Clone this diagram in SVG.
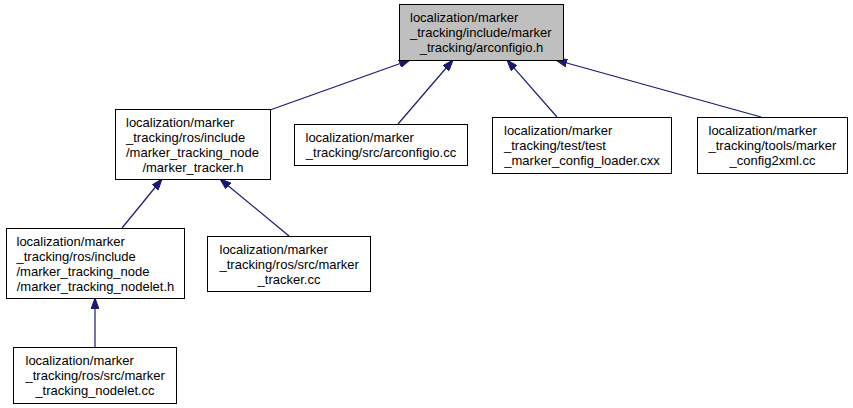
<svg xmlns="http://www.w3.org/2000/svg" width="853" height="408" viewBox="0 0 853 408">
<style>
.box{fill:#ffffff;stroke:#000000;stroke-width:1}
.hl{fill:#bfbfbf}
text{font-family:"Liberation Sans",Arial,sans-serif;font-size:13px;fill:#000000}
.c{text-anchor:middle}
.edge{stroke:#191970;stroke-width:1.2;fill:none;marker-end:url(#arr)}
</style>
<defs>
<marker id="arr" viewBox="0 0 11 8" markerWidth="11" markerHeight="8" markerUnits="userSpaceOnUse" refX="11" refY="4" orient="auto">
<path d="M0,0 L11,4 L0,8 z" fill="#191970" stroke="#191970"/>
</marker>
</defs>
<rect width="853" height="408" fill="#ffffff"/>
<g id="edges">
<line class="edge" x1="270" y1="110" x2="410" y2="60"/>
<line class="edge" x1="398" y1="124" x2="453" y2="60"/>
<line class="edge" x1="557" y1="117" x2="507" y2="60"/>
<line class="edge" x1="761" y1="117" x2="556" y2="60"/>
<line class="edge" x1="122" y1="228" x2="162" y2="179"/>
<line class="edge" x1="289" y1="236" x2="220" y2="179"/>
<line class="edge" x1="95" y1="347" x2="95" y2="298"/>
</g>
<g id="nodeA">
<rect class="box hl" x="399.5" y="4.5" width="164" height="56"/>
<text x="410" y="22">localization/marker</text>
<text x="410" y="37">_tracking/include/marker</text>
<text class="c" x="481.5" y="52">_tracking/arconfigio.h</text>
</g>
<g id="nodeB">
<rect class="box" x="115.5" y="109.5" width="155" height="70"/>
<text x="126" y="127">localization/marker</text>
<text x="126" y="142">_tracking/ros/include</text>
<text x="126" y="157">/marker_tracking_node</text>
<text class="c" x="193" y="172">/marker_tracker.h</text>
</g>
<g id="nodeC">
<rect class="box" x="294.5" y="124.5" width="173" height="41"/>
<text x="305.5" y="142">localization/marker</text>
<text class="c" x="381" y="157">_tracking/src/arconfigio.cc</text>
</g>
<g id="nodeD">
<rect class="box" x="492.5" y="117.5" width="179" height="56"/>
<text x="504" y="135">localization/marker</text>
<text x="504" y="150">_tracking/test/test</text>
<text class="c" x="582" y="165">_marker_config_loader.cxx</text>
</g>
<g id="nodeE">
<rect class="box" x="697.5" y="117.5" width="150" height="56"/>
<text x="708.5" y="135">localization/marker</text>
<text x="708.5" y="150">_tracking/tools/marker</text>
<text class="c" x="772.5" y="165">_config2xml.cc</text>
</g>
<g id="nodeF">
<rect class="box" x="6.5" y="228.5" width="178" height="70"/>
<text x="16.5" y="246">localization/marker</text>
<text x="16.5" y="261">_tracking/ros/include</text>
<text x="16.5" y="276">/marker_tracking_node</text>
<text class="c" x="95.5" y="291">/marker_tracking_nodelet.h</text>
</g>
<g id="nodeG">
<rect class="box" x="207.5" y="236.5" width="163" height="55"/>
<text x="219.5" y="254">localization/marker</text>
<text x="219.5" y="269">_tracking/ros/src/marker</text>
<text class="c" x="289" y="284">_tracker.cc</text>
</g>
<g id="nodeH">
<rect class="box" x="13.5" y="347.5" width="163" height="56"/>
<text x="25.5" y="365">localization/marker</text>
<text x="25.5" y="380">_tracking/ros/src/marker</text>
<text class="c" x="95" y="395">_tracking_nodelet.cc</text>
</g>
</svg>
